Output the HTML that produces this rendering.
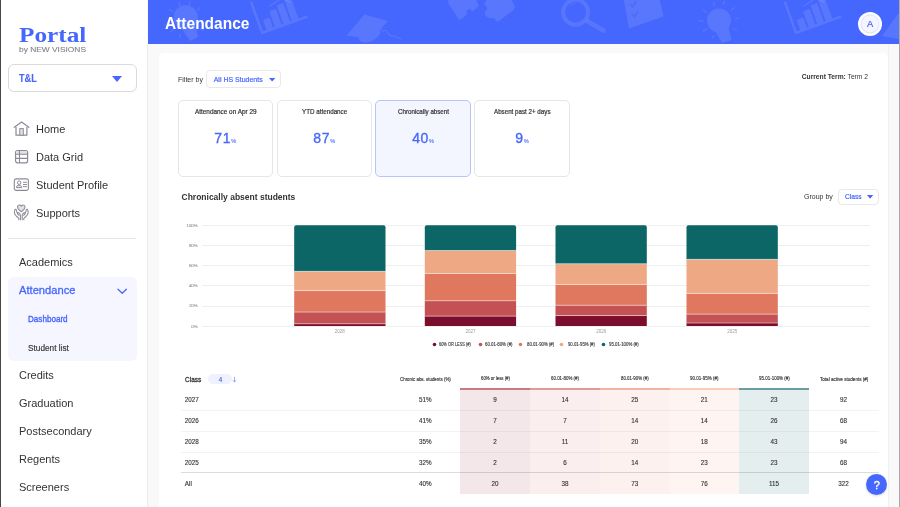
<!DOCTYPE html>
<html><head><meta charset="utf-8">
<style>
*{box-sizing:border-box;margin:0;padding:0}
html,body{width:900px;height:507px;overflow:hidden;background:#f8f8f8;font-family:"Liberation Sans",sans-serif;color:#333;position:relative}
</style></head><body>
<div style="position:absolute;left:0px;top:0px;width:900px;height:507px;background:#f9f9f9"></div>
<div style="position:absolute;left:1px;top:0px;width:146px;height:507px;background:#fff"></div>
<div style="position:absolute;left:147px;top:44px;width:1px;height:463px;background:#ececec"></div>
<div style="position:absolute;left:0px;top:0px;width:1px;height:507px;background:#474747"></div>
<div style="position:absolute;left:899px;top:0px;width:1px;height:507px;background:#a9a9a9"></div>
<div style="position:absolute;left:888px;top:44px;width:1.2px;height:463px;background:#f1f1f1"></div>
<div style="position:absolute;left:148px;top:0px;width:751px;height:44px;background:#4667fd;overflow:hidden"></div>
<svg style="position:absolute;left:148px;top:0" width="751" height="44" viewBox="148 0 751 44">
<g fill="#fff" opacity="0.1" stroke="none">
 <!-- bulb 1 -->
 <circle cx="185.6" cy="17.3" r="12"/>
 <path d="M180 26L195 23L198 37L190 41Z"/>
 <!-- bar chart 1 -->
 <g transform="translate(262.2 32.9) rotate(-19.8)">
  <path d="M-1.2 -33V1.2H48V-1.2H1.2V-33Z"/>
  <rect x="5" y="-12" width="7" height="12" rx="1.5"/>
  <rect x="14" y="-18" width="7" height="18" rx="1.5"/>
  <rect x="23" y="-21" width="7" height="21" rx="1.5"/>
  <rect x="32" y="-27" width="7" height="27" rx="1.5"/>
 </g>
 <!-- grad cap 1 -->
 <path d="M346.7 35.6L364.4 14.4L387.8 21.1L372.2 38.9Z"/>
 <ellipse cx="369.5" cy="34.5" rx="11.5" ry="7" transform="rotate(-25 369.5 34.5)"/>
 <!-- puzzle pieces -->
 <path d="M448.9 -1L449.3 3.6L459.6 19.1L466.2 14.2C465.3 11.5 466 9 468.5 8.4C470.3 8 471.6 9.2 472.4 10.5L477.8 5.8L475.1 -1Z" stroke="#fff" stroke-width="1.6" stroke-linejoin="round"/>
 <path d="M485.3 3.6L488 -1L510.2 -1L514.2 6.7L512.9 9.3L497.8 20.9L493.3 16.4C492.5 17.4 491 17.8 489.8 17.3C487 16.5 485.6 14.5 485.8 12.5C486 10.8 487 9.6 488.4 8.9Z" stroke="#fff" stroke-width="1.6" stroke-linejoin="round"/>
 <!-- clipboard -->
 <path d="M623.5 -2L659 -3L663.5 16.5L629 28.5Z"/>
 <!-- bulb 2 -->
 <circle cx="719" cy="20.5" r="12"/>
 <path d="M714 29L728 26L731.5 40L722 43Z"/>
 <!-- bar chart 2 -->
 <g transform="translate(796 32.9) rotate(-19.8)">
  <path d="M-1.2 -33V1.2H48V-1.2H1.2V-33Z"/>
  <rect x="5" y="-12" width="7" height="12" rx="1.5"/>
  <rect x="14" y="-18" width="7" height="18" rx="1.5"/>
  <rect x="23" y="-21" width="7" height="21" rx="1.5"/>
  <rect x="32" y="-27" width="7" height="27" rx="1.5"/>
 </g>
 <!-- grad cap 2 partial -->
 <path d="M882 36L898 14L904 16L904 40Z"/>
</g>
<g fill="none" stroke="#fff" stroke-opacity="0.1" stroke-linecap="round">
 <circle cx="575.6" cy="12.2" r="12.5" stroke-width="4"/>
 <path d="M588 21.5L603.5 30.5" stroke-width="4.5"/>
 <path d="M382 31Q386 29 388 33T394 36L401 39" stroke-width="1.2"/>
 <path d="M178.9 2.6L180.2 5.6M190 1.7L189.3 5.2M199.7 7.8L197.5 10.4M169.3 9.5L172.4 11.3M170.2 32L172.8 30M179.7 37.3L180.6 34.7M203.2 30.4L200.6 28.6" stroke-width="1.3"/>
 <path d="M713.3 2.2L714.4 5.6M724.4 1.1L723.3 4.4M734.4 7.8L731.1 10M703.3 10L706.7 12.2M698.9 21.1H703.3M735.6 18.9L738.9 17.8M703.3 31.1L706.7 28.9M712 37.8L714.4 35.6M733.3 28.9L736.7 30" stroke-width="1.3"/>
 <path d="M270 6L282 -2L290 2" stroke-width="1.5"/>
 <path d="M804 6L816 -2L824 2" stroke-width="1.5"/>
</g>
<g fill="none" stroke="#3f5ff0" stroke-opacity="0.5" stroke-width="1.4" stroke-linecap="round" stroke-linejoin="round">
 <path d="M630 4L632.5 7L636 1.5M632 14L634.5 17L638 11.5"/>
</g>
<g fill="none" stroke="#fff" stroke-opacity="0.08" stroke-width="1.2" stroke-linecap="round">
 <path d="M570 6Q572 3.5 575 3.2"/>
</g>
</svg>
<div style="position:absolute;top:14.81px;font-size:17px;line-height:17px;color:#fff;font-weight:700;white-space:nowrap;left:165.00px;transform:scaleX(0.9117);transform-origin:0 0">Attendance</div>
<div style="position:absolute;left:858px;top:11.8px;width:24px;height:24px;border-radius:50%;background:#f4f5ff;border:2px solid #fff;box-sizing:border-box;box-shadow:inset 0 0 0 0.8px #f4f5ff,inset 0 0 0 1.5px #dde2fb"></div>
<div style="position:absolute;top:20.03px;font-size:9.3px;line-height:9.3px;color:#4862ea;font-weight:400;white-space:nowrap;-webkit-text-stroke:0.2px #4862ea;left:860.10px;width:20px;text-align:center;">A</div>
<div style="position:absolute;top:25.25px;font-size:20.5px;line-height:20.5px;color:#4667fd;font-weight:700;white-space:nowrap;font-family:'Liberation Serif',serif;left:18.90px;transform:scaleX(1.2332);transform-origin:0 0">Portal</div>
<div style="position:absolute;top:45.51px;font-size:7.2px;line-height:7.2px;color:#80808a;font-weight:400;white-space:nowrap;-webkit-text-stroke:0.1px #80808a;left:19.00px;transform:scaleX(1.1649);transform-origin:0 0">by NEW VISIONS</div>
<div style="position:absolute;left:8px;top:64px;width:129px;height:28px;border:1px solid #dadada;border-radius:6px;box-sizing:border-box"></div>
<div style="position:absolute;top:73.41px;font-size:10.5px;line-height:10.5px;color:#4667fd;font-weight:700;white-space:nowrap;-webkit-text-stroke:0.15px #4667fd;left:19.00px;transform:scaleX(0.8667);transform-origin:0 0">T&amp;L</div>
<svg style="position:absolute;left:112px;top:75.5px" width="10" height="6.5"><path d="M0 0H10L5 6Z" fill="#4667fd"/></svg>
<svg style="position:absolute;left:12px;top:119px" width="20" height="19" viewBox="0 0 20 19">
<path d="M4.0 8.0V16.2H14.9V8.0" fill="none" stroke="#8b8b97" stroke-width="1.2" stroke-linejoin="round"/>
<path d="M2.3 8.3L9.55 3.1L16.9 8.3" fill="none" stroke="#8b8b97" stroke-width="1.2" stroke-linecap="round" stroke-linejoin="round"/>
<rect x="7.8" y="9.6" width="3.5" height="6.6" fill="#e2e2e8" stroke="#8b8b97" stroke-width="1"/>
</svg>
<svg style="position:absolute;left:14px;top:149px" width="16" height="16" viewBox="0 0 16 16">
<rect x="1.56" y="1.6" width="12.05" height="12.2" rx="2" fill="#fff" stroke="#8b8b97" stroke-width="1.2"/>
<path d="M2.2 2.2h10.8v3.1H2.2z" fill="#e2e2e8"/>
<path d="M1.56 5.3H13.6M1.56 9.4H13.6M5.5 1.6V13.8" stroke="#8b8b97" stroke-width="1.1"/>
</svg>
<svg style="position:absolute;left:13px;top:177px" width="17" height="15" viewBox="0 0 17 15">
<rect x="1.3" y="1.9" width="14.1" height="11.5" rx="1.8" fill="none" stroke="#8b8b97" stroke-width="1.1"/>
<circle cx="6.1" cy="5.7" r="1.75" fill="none" stroke="#8b8b97" stroke-width="1"/>
<path d="M3.4 10.6C3.5 8.7 4.6 8.1 6.1 8.1S8.7 8.7 8.8 10.6Z" fill="#e2e2e8" stroke="#8b8b97" stroke-width="1" stroke-linejoin="round"/>
<path d="M10 5.3H14M10 7.5H14M10 9.6H14" stroke="#8b8b97" stroke-width="0.95"/>
</svg>
<svg style="position:absolute;left:11px;top:202px" width="21" height="21" viewBox="0 0 21 21">
<path d="M10.3 9.7C7.8 7.9 6.6 6.6 6.6 5.0C6.6 3.8 7.5 3.0 8.5 3.0C9.3 3.0 9.9 3.5 10.3 4.1C10.7 3.5 11.3 3.0 12.1 3.0C13.1 3.0 14.0 3.8 14.0 5.0C14.0 6.6 12.8 7.9 10.3 9.7Z" fill="#e2e2e8" stroke="#8b8b97" stroke-width="1.05" stroke-linejoin="round"/>
<g fill="none" stroke="#8b8b97" stroke-width="1.05" stroke-linecap="round" stroke-linejoin="round">
<path d="M4.2 7.2C3 9.5 3.2 12 5.2 14L7.8 16.4V17.8M4.2 7.2C4.9 7.0 5.3 7.6 5.5 8.5L6.0 10.6C7.6 10.4 9.3 11.5 9.4 13.4V17.8M6.3 11.0C6.6 12.2 7.2 12.8 8.0 13.3"/>
<path d="M16.4 7.2C17.6 9.5 17.4 12 15.4 14L12.8 16.4V17.8M16.4 7.2C15.7 7.0 15.3 7.6 15.1 8.5L14.6 10.6C13 10.4 11.3 11.5 11.2 13.4V17.8M14.3 11.0C14 12.2 13.4 12.8 12.6 13.3"/>
</g>
</svg>
<div style="position:absolute;top:124.19px;font-size:11px;line-height:11px;color:#333;font-weight:400;white-space:nowrap;left:36.00px;">Home</div>
<div style="position:absolute;top:152.19px;font-size:11px;line-height:11px;color:#333;font-weight:400;white-space:nowrap;left:36.00px;">Data Grid</div>
<div style="position:absolute;top:180.19px;font-size:11px;line-height:11px;color:#333;font-weight:400;white-space:nowrap;left:36.00px;">Student Profile</div>
<div style="position:absolute;top:208.19px;font-size:11px;line-height:11px;color:#333;font-weight:400;white-space:nowrap;left:36.00px;">Supports</div>
<div style="position:absolute;left:8px;top:238px;width:128px;height:1px;background:#e6e6e6"></div>
<div style="position:absolute;left:8px;top:277px;width:128.6px;height:84px;background:#f5f6ff;border-radius:6px"></div>
<div style="position:absolute;top:257.09px;font-size:11px;line-height:11px;color:#333;font-weight:400;white-space:nowrap;left:19.00px;">Academics</div>
<div style="position:absolute;top:285.29px;font-size:11px;line-height:11px;color:#4667fd;font-weight:400;white-space:nowrap;-webkit-text-stroke:0.3px #4667fd;left:19.00px;transform:scaleX(1.0152);transform-origin:0 0">Attendance</div>
<svg style="position:absolute;left:117.3px;top:287.6px" width="11" height="7"><path d="M1 1.2L5.2 5.3L9.4 1.2" fill="none" stroke="#4667fd" stroke-width="1.25" stroke-linecap="round" stroke-linejoin="round"/></svg>
<div style="position:absolute;top:315.40px;font-size:8.5px;line-height:8.5px;color:#4667fd;font-weight:400;white-space:nowrap;-webkit-text-stroke:0.35px #4667fd;left:27.90px;transform:scaleX(0.9521);transform-origin:0 0">Dashboard</div>
<div style="position:absolute;top:343.80px;font-size:8.5px;line-height:8.5px;color:#333;font-weight:400;white-space:nowrap;-webkit-text-stroke:0.15px #333;left:27.80px;transform:scaleX(0.9700);transform-origin:0 0">Student list</div>
<div style="position:absolute;top:369.99px;font-size:11px;line-height:11px;color:#333;font-weight:400;white-space:nowrap;left:19.00px;">Credits</div>
<div style="position:absolute;top:397.99px;font-size:11px;line-height:11px;color:#333;font-weight:400;white-space:nowrap;left:19.00px;">Graduation</div>
<div style="position:absolute;top:425.99px;font-size:11px;line-height:11px;color:#333;font-weight:400;white-space:nowrap;left:19.00px;">Postsecondary</div>
<div style="position:absolute;top:453.99px;font-size:11px;line-height:11px;color:#333;font-weight:400;white-space:nowrap;left:19.00px;">Regents</div>
<div style="position:absolute;top:481.99px;font-size:11px;line-height:11px;color:#333;font-weight:400;white-space:nowrap;left:19.00px;">Screeners</div>
<div style="position:absolute;left:159px;top:53px;width:729px;height:470px;background:#fff;border-radius:5px"></div>
<div style="position:absolute;top:76.17px;font-size:7px;line-height:7px;color:#333;font-weight:400;white-space:nowrap;left:178.00px;">Filter by</div>
<div style="position:absolute;left:206px;top:70px;width:75px;height:17.5px;border:1px solid #e9e9e9;border-radius:4px;box-sizing:border-box;background:#fff"></div>
<div style="position:absolute;top:76.17px;font-size:7px;line-height:7px;color:#4667fd;font-weight:400;white-space:nowrap;-webkit-text-stroke:0.2px #4667fd;left:213.70px;">All HS Students</div>
<svg style="position:absolute;left:268.7px;top:77.7px" width="7" height="4.5"><path d="M0 0H6.3L3.15 3.6Z" fill="#4667fd"/></svg>
<div style="position:absolute;top:74.33px;font-size:6.7px;line-height:6.7px;color:#333;font-weight:400;white-space:nowrap;left:748.00px;width:120px;text-align:right;"><b>Current Term:</b> Term 2</div>
<div style="position:absolute;left:177.5px;top:100.3px;width:95.5px;height:76.5px;border:1px solid #e6e6e6;border-radius:5px;box-sizing:border-box;background:#fff"></div>
<div style="position:absolute;top:109.00px;font-size:6.5px;line-height:6.5px;color:#333;font-weight:400;white-space:nowrap;-webkit-text-stroke:0.2px #333;left:194.50px;transform:scaleX(0.9835);transform-origin:0 0">Attendance on Apr 29</div>
<div style="position:absolute;left:177.5px;width:95.5px;top:131.15px;text-align:center;white-space:nowrap;line-height:14px;color:#4667fd"><span style="font-size:14px;font-weight:400;-webkit-text-stroke:0.35px #4667fd;letter-spacing:0.6px">71</span><span style="font-size:5.6px;color:#6f8bfb;-webkit-text-stroke:0.2px #6f8bfb">%</span></div>
<div style="position:absolute;left:276.5px;top:100.3px;width:95.5px;height:76.5px;border:1px solid #e6e6e6;border-radius:5px;box-sizing:border-box;background:#fff"></div>
<div style="position:absolute;top:109.00px;font-size:6.5px;line-height:6.5px;color:#333;font-weight:400;white-space:nowrap;-webkit-text-stroke:0.2px #333;left:301.65px;transform:scaleX(0.9620);transform-origin:0 0">YTD attendance</div>
<div style="position:absolute;left:276.5px;width:95.5px;top:131.15px;text-align:center;white-space:nowrap;line-height:14px;color:#4667fd"><span style="font-size:14px;font-weight:400;-webkit-text-stroke:0.35px #4667fd;letter-spacing:0.6px">87</span><span style="font-size:5.6px;color:#6f8bfb;-webkit-text-stroke:0.2px #6f8bfb">%</span></div>
<div style="position:absolute;left:375.3px;top:100.3px;width:95.5px;height:76.5px;border:1px solid #b7c4f9;border-radius:5px;box-sizing:border-box;background:#f3f5ff"></div>
<div style="position:absolute;top:109.00px;font-size:6.5px;line-height:6.5px;color:#333;font-weight:400;white-space:nowrap;-webkit-text-stroke:0.2px #333;left:397.55px;transform:scaleX(0.9535);transform-origin:0 0">Chronically absent</div>
<div style="position:absolute;left:375.3px;width:95.5px;top:131.15px;text-align:center;white-space:nowrap;line-height:14px;color:#4667fd"><span style="font-size:14px;font-weight:400;-webkit-text-stroke:0.35px #4667fd;letter-spacing:0.6px">40</span><span style="font-size:5.6px;color:#6f8bfb;-webkit-text-stroke:0.2px #6f8bfb">%</span></div>
<div style="position:absolute;left:474.3px;top:100.3px;width:95.5px;height:76.5px;border:1px solid #e6e6e6;border-radius:5px;box-sizing:border-box;background:#fff"></div>
<div style="position:absolute;top:109.00px;font-size:6.5px;line-height:6.5px;color:#333;font-weight:400;white-space:nowrap;-webkit-text-stroke:0.2px #333;left:493.80px;transform:scaleX(0.9561);transform-origin:0 0">Absent past 2+ days</div>
<div style="position:absolute;left:474.3px;width:95.5px;top:131.15px;text-align:center;white-space:nowrap;line-height:14px;color:#4667fd"><span style="font-size:14px;font-weight:400;-webkit-text-stroke:0.35px #4667fd;letter-spacing:0.6px">9</span><span style="font-size:5.6px;color:#6f8bfb;-webkit-text-stroke:0.2px #6f8bfb">%</span></div>
<div style="position:absolute;top:192.50px;font-size:8.5px;line-height:8.5px;color:#333;font-weight:700;white-space:nowrap;left:181.50px;">Chronically absent students</div>
<div style="position:absolute;top:193.07px;font-size:7px;line-height:7px;color:#333;font-weight:400;white-space:nowrap;left:804.00px;">Group by</div>
<div style="position:absolute;left:837.5px;top:188.5px;width:41px;height:16.5px;border:1px solid #e8e8e8;border-radius:4px;box-sizing:border-box;background:#fff"></div>
<div style="position:absolute;top:194.41px;font-size:6.6px;line-height:6.6px;color:#4667fd;font-weight:400;white-space:nowrap;-webkit-text-stroke:0.2px #4667fd;left:845.00px;">Class</div>
<svg style="position:absolute;left:866.8px;top:194.8px" width="7" height="4.5"><path d="M0 0H6.2L3.1 3.7Z" fill="#4667fd"/></svg>
<div style="position:absolute;left:202px;top:325.5px;width:668px;height:1px;background:#efefef"></div>
<div style="position:absolute;top:324.56px;font-size:4.3px;line-height:4.3px;color:#8e8e8e;font-weight:400;white-space:nowrap;-webkit-text-stroke:0.08px #8e8e8e;left:177.50px;width:20px;text-align:right;">0%</div>
<div style="position:absolute;left:202px;top:305.5px;width:668px;height:1px;background:#efefef"></div>
<div style="position:absolute;top:304.42px;font-size:4.3px;line-height:4.3px;color:#8e8e8e;font-weight:400;white-space:nowrap;-webkit-text-stroke:0.08px #8e8e8e;left:177.50px;width:20px;text-align:right;">20%</div>
<div style="position:absolute;left:202px;top:285.0px;width:668px;height:1px;background:#efefef"></div>
<div style="position:absolute;top:284.28px;font-size:4.3px;line-height:4.3px;color:#8e8e8e;font-weight:400;white-space:nowrap;-webkit-text-stroke:0.08px #8e8e8e;left:177.50px;width:20px;text-align:right;">40%</div>
<div style="position:absolute;left:202px;top:265.0px;width:668px;height:1px;background:#efefef"></div>
<div style="position:absolute;top:264.14px;font-size:4.3px;line-height:4.3px;color:#8e8e8e;font-weight:400;white-space:nowrap;-webkit-text-stroke:0.08px #8e8e8e;left:177.50px;width:20px;text-align:right;">60%</div>
<div style="position:absolute;left:202px;top:245.0px;width:668px;height:1px;background:#efefef"></div>
<div style="position:absolute;top:244.00px;font-size:4.3px;line-height:4.3px;color:#8e8e8e;font-weight:400;white-space:nowrap;-webkit-text-stroke:0.08px #8e8e8e;left:177.50px;width:20px;text-align:right;">80%</div>
<div style="position:absolute;left:202px;top:225.0px;width:668px;height:1px;background:#efefef"></div>
<div style="position:absolute;top:223.86px;font-size:4.3px;line-height:4.3px;color:#8e8e8e;font-weight:400;white-space:nowrap;-webkit-text-stroke:0.08px #8e8e8e;left:177.50px;width:20px;text-align:right;">100%</div>
<svg style="position:absolute;left:0;top:0" width="900" height="507">
<rect x="294.20" y="323.86" width="91.3" height="2.14" fill="#7c0e2d"/>
<rect x="294.20" y="312.07" width="91.3" height="11.78" fill="#c45153"/>
<rect x="294.20" y="290.65" width="91.3" height="21.43" fill="#e0785f"/>
<rect x="294.20" y="271.36" width="91.3" height="19.28" fill="#eea883"/>
<path d="M294.20 271.36V227.30Q294.20 225.30 296.20 225.30H383.50Q385.50 225.30 385.50 227.30V271.36Z" fill="#0b6665"/>
<rect x="294.20" y="323.36" width="91.3" height="0.9" fill="#fff" fill-opacity="0.5"/>
<rect x="294.20" y="311.57" width="91.3" height="0.9" fill="#fff" fill-opacity="0.5"/>
<rect x="294.20" y="290.15" width="91.3" height="0.9" fill="#fff" fill-opacity="0.5"/>
<rect x="294.20" y="270.86" width="91.3" height="0.9" fill="#fff" fill-opacity="0.5"/>
<text x="339.85" y="333.00" font-size="4.5" fill="#9c9c9c" text-anchor="middle" font-family="Liberation Sans">2028</text>
<rect x="424.80" y="316.15" width="91.3" height="9.85" fill="#7c0e2d"/>
<rect x="424.80" y="300.82" width="91.3" height="15.32" fill="#c45153"/>
<rect x="424.80" y="273.46" width="91.3" height="27.36" fill="#e0785f"/>
<rect x="424.80" y="250.47" width="91.3" height="22.99" fill="#eea883"/>
<path d="M424.80 250.47V227.30Q424.80 225.30 426.80 225.30H514.10Q516.10 225.30 516.10 227.30V250.47Z" fill="#0b6665"/>
<rect x="424.80" y="315.65" width="91.3" height="0.9" fill="#fff" fill-opacity="0.5"/>
<rect x="424.80" y="300.32" width="91.3" height="0.9" fill="#fff" fill-opacity="0.5"/>
<rect x="424.80" y="272.96" width="91.3" height="0.9" fill="#fff" fill-opacity="0.5"/>
<rect x="424.80" y="249.97" width="91.3" height="0.9" fill="#fff" fill-opacity="0.5"/>
<text x="470.45" y="333.00" font-size="4.5" fill="#9c9c9c" text-anchor="middle" font-family="Liberation Sans">2027</text>
<rect x="555.50" y="315.63" width="91.3" height="10.37" fill="#7c0e2d"/>
<rect x="555.50" y="305.27" width="91.3" height="10.37" fill="#c45153"/>
<rect x="555.50" y="284.54" width="91.3" height="20.73" fill="#e0785f"/>
<rect x="555.50" y="263.80" width="91.3" height="20.73" fill="#eea883"/>
<path d="M555.50 263.80V227.30Q555.50 225.30 557.50 225.30H644.80Q646.80 225.30 646.80 227.30V263.80Z" fill="#0b6665"/>
<rect x="555.50" y="315.13" width="91.3" height="0.9" fill="#fff" fill-opacity="0.5"/>
<rect x="555.50" y="304.77" width="91.3" height="0.9" fill="#fff" fill-opacity="0.5"/>
<rect x="555.50" y="284.04" width="91.3" height="0.9" fill="#fff" fill-opacity="0.5"/>
<rect x="555.50" y="263.30" width="91.3" height="0.9" fill="#fff" fill-opacity="0.5"/>
<text x="601.15" y="333.00" font-size="4.5" fill="#9c9c9c" text-anchor="middle" font-family="Liberation Sans">2026</text>
<rect x="686.50" y="323.04" width="91.3" height="2.96" fill="#7c0e2d"/>
<rect x="686.50" y="314.15" width="91.3" height="8.89" fill="#c45153"/>
<rect x="686.50" y="293.42" width="91.3" height="20.73" fill="#e0785f"/>
<rect x="686.50" y="259.36" width="91.3" height="34.06" fill="#eea883"/>
<path d="M686.50 259.36V227.30Q686.50 225.30 688.50 225.30H775.80Q777.80 225.30 777.80 227.30V259.36Z" fill="#0b6665"/>
<rect x="686.50" y="322.54" width="91.3" height="0.9" fill="#fff" fill-opacity="0.5"/>
<rect x="686.50" y="313.65" width="91.3" height="0.9" fill="#fff" fill-opacity="0.5"/>
<rect x="686.50" y="292.92" width="91.3" height="0.9" fill="#fff" fill-opacity="0.5"/>
<rect x="686.50" y="258.86" width="91.3" height="0.9" fill="#fff" fill-opacity="0.5"/>
<text x="732.15" y="333.00" font-size="4.5" fill="#9c9c9c" text-anchor="middle" font-family="Liberation Sans">2025</text>
</svg>
<svg style="position:absolute;left:431.70px;top:341.9px" width="5" height="5"><circle cx="2.5" cy="2.5" r="1.8" fill="#7c0e2d"/></svg>
<div style="position:absolute;top:343.09px;font-size:4.5px;line-height:4.5px;color:#444;font-weight:400;white-space:nowrap;-webkit-text-stroke:0.15px #444;left:439.40px;transform:scaleX(0.8709);transform-origin:0 0">60% OR LESS (#)</div>
<svg style="position:absolute;left:477.50px;top:341.9px" width="5" height="5"><circle cx="2.5" cy="2.5" r="1.8" fill="#c45153"/></svg>
<div style="position:absolute;top:343.09px;font-size:4.5px;line-height:4.5px;color:#444;font-weight:400;white-space:nowrap;-webkit-text-stroke:0.15px #444;left:484.90px;transform:scaleX(0.9639);transform-origin:0 0">60.01-80% (#)</div>
<svg style="position:absolute;left:518.30px;top:341.9px" width="5" height="5"><circle cx="2.5" cy="2.5" r="1.8" fill="#e0785f"/></svg>
<div style="position:absolute;top:343.09px;font-size:4.5px;line-height:4.5px;color:#444;font-weight:400;white-space:nowrap;-webkit-text-stroke:0.15px #444;left:526.60px;transform:scaleX(0.9533);transform-origin:0 0">80.01-90% (#)</div>
<svg style="position:absolute;left:559.30px;top:341.9px" width="5" height="5"><circle cx="2.5" cy="2.5" r="1.8" fill="#eea883"/></svg>
<div style="position:absolute;top:343.09px;font-size:4.5px;line-height:4.5px;color:#444;font-weight:400;white-space:nowrap;-webkit-text-stroke:0.15px #444;left:567.60px;transform:scaleX(0.9428);transform-origin:0 0">90.01-95% (#)</div>
<svg style="position:absolute;left:600.70px;top:341.9px" width="5" height="5"><circle cx="2.5" cy="2.5" r="1.8" fill="#0b6665"/></svg>
<div style="position:absolute;top:343.09px;font-size:4.5px;line-height:4.5px;color:#444;font-weight:400;white-space:nowrap;-webkit-text-stroke:0.15px #444;left:608.70px;transform:scaleX(0.9571);transform-origin:0 0">95.01-100% (#)</div>
<div style="position:absolute;left:460px;top:388.3px;width:70px;height:105.5px;background:#f3e7ea"></div>
<div style="position:absolute;left:460px;top:387.9px;width:70px;height:1.9px;background:#c77a84"></div>
<div style="position:absolute;left:530px;top:388.3px;width:70px;height:105.5px;background:#fbeeee"></div>
<div style="position:absolute;left:530px;top:387.9px;width:70px;height:1.9px;background:#e29a96"></div>
<div style="position:absolute;left:600px;top:388.3px;width:69.5px;height:105.5px;background:#fdf1ef"></div>
<div style="position:absolute;left:600px;top:387.9px;width:69.5px;height:1.9px;background:#f0b4a3"></div>
<div style="position:absolute;left:669.5px;top:388.3px;width:69.70000000000005px;height:105.5px;background:#fef5f2"></div>
<div style="position:absolute;left:669.5px;top:387.9px;width:69.70000000000005px;height:1.9px;background:#f7cdb9"></div>
<div style="position:absolute;left:739.2px;top:388.3px;width:69.79999999999995px;height:105.5px;background:#e5eeef"></div>
<div style="position:absolute;left:739.2px;top:387.9px;width:69.79999999999995px;height:1.9px;background:#6b9ea0"></div>
<div style="position:absolute;left:180.6px;top:410px;width:698.4px;height:1px;background:#f3f3f3;mix-blend-mode:multiply"></div>
<div style="position:absolute;left:180.6px;top:430.7px;width:698.4px;height:1px;background:#f3f3f3;mix-blend-mode:multiply"></div>
<div style="position:absolute;left:180.6px;top:451.5px;width:698.4px;height:1px;background:#f3f3f3;mix-blend-mode:multiply"></div>
<div style="position:absolute;left:180.6px;top:471.8px;width:698.4px;height:1.2px;background:#dcdcdc;mix-blend-mode:multiply"></div>
<div style="position:absolute;top:376.37px;font-size:7px;line-height:7px;color:#333;font-weight:400;white-space:nowrap;-webkit-text-stroke:0.28px #333;left:184.80px;transform:scaleX(0.9306);transform-origin:0 0">Class</div>
<div style="position:absolute;left:208.3px;top:374.4px;width:24px;height:9.3px;background:#eff2fe;border-radius:5px"></div>
<div style="position:absolute;top:376.77px;font-size:6.3px;line-height:6.3px;color:#4667fd;font-weight:400;white-space:nowrap;-webkit-text-stroke:0.15px #4667fd;left:215.40px;width:10px;text-align:center;">4</div>
<svg style="position:absolute;left:232px;top:376px" width="5" height="7"><path d="M2.5 1.4V5.9M1.1 4.5L2.5 6L3.9 4.5" fill="none" stroke="#6a85fb" stroke-width="0.65" stroke-linecap="round" stroke-linejoin="round"/></svg>
<div style="position:absolute;top:377.82px;font-size:4.7px;line-height:4.7px;color:#333;font-weight:400;white-space:nowrap;-webkit-text-stroke:0.14px #333;left:400.00px;transform:scaleX(0.9418);transform-origin:0 0">Chronic abs. students (%)</div>
<div style="position:absolute;top:377.22px;font-size:4.7px;line-height:4.7px;color:#333;font-weight:400;white-space:nowrap;-webkit-text-stroke:0.14px #333;left:480.75px;transform:scaleX(0.9166);transform-origin:0 0">60% or less (#)</div>
<div style="position:absolute;top:377.22px;font-size:4.7px;line-height:4.7px;color:#333;font-weight:400;white-space:nowrap;-webkit-text-stroke:0.14px #333;left:551.00px;transform:scaleX(0.9422);transform-origin:0 0">60.01-80% (#)</div>
<div style="position:absolute;top:377.22px;font-size:4.7px;line-height:4.7px;color:#333;font-weight:400;white-space:nowrap;-webkit-text-stroke:0.14px #333;left:621.00px;transform:scaleX(0.9287);transform-origin:0 0">80.01-90% (#)</div>
<div style="position:absolute;top:377.22px;font-size:4.7px;line-height:4.7px;color:#333;font-weight:400;white-space:nowrap;-webkit-text-stroke:0.14px #333;left:690.00px;transform:scaleX(0.9556);transform-origin:0 0">90.01-95% (#)</div>
<div style="position:absolute;top:377.22px;font-size:4.7px;line-height:4.7px;color:#333;font-weight:400;white-space:nowrap;-webkit-text-stroke:0.14px #333;left:758.60px;transform:scaleX(0.9532);transform-origin:0 0">95.01-100% (#)</div>
<div style="position:absolute;top:377.72px;font-size:4.7px;line-height:4.7px;color:#333;font-weight:400;white-space:nowrap;-webkit-text-stroke:0.14px #333;left:819.60px;transform:scaleX(0.9775);transform-origin:0 0">Total active students (#)</div>
<div style="position:absolute;top:397.12px;font-size:6.3px;line-height:6.3px;color:#333;font-weight:400;white-space:nowrap;-webkit-text-stroke:0.12px #333;left:184.80px;">2027</div>
<div style="position:absolute;top:397.12px;font-size:6.3px;line-height:6.3px;color:#333;font-weight:400;white-space:nowrap;-webkit-text-stroke:0.12px #333;left:405.40px;width:40px;text-align:center;">51%</div>
<div style="position:absolute;top:397.12px;font-size:6.3px;line-height:6.3px;color:#333;font-weight:400;white-space:nowrap;-webkit-text-stroke:0.12px #333;left:475.00px;width:40px;text-align:center;">9</div>
<div style="position:absolute;top:397.12px;font-size:6.3px;line-height:6.3px;color:#333;font-weight:400;white-space:nowrap;-webkit-text-stroke:0.12px #333;left:545.00px;width:40px;text-align:center;">14</div>
<div style="position:absolute;top:397.12px;font-size:6.3px;line-height:6.3px;color:#333;font-weight:400;white-space:nowrap;-webkit-text-stroke:0.12px #333;left:614.75px;width:40px;text-align:center;">25</div>
<div style="position:absolute;top:397.12px;font-size:6.3px;line-height:6.3px;color:#333;font-weight:400;white-space:nowrap;-webkit-text-stroke:0.12px #333;left:684.35px;width:40px;text-align:center;">21</div>
<div style="position:absolute;top:397.12px;font-size:6.3px;line-height:6.3px;color:#333;font-weight:400;white-space:nowrap;-webkit-text-stroke:0.12px #333;left:754.10px;width:40px;text-align:center;">23</div>
<div style="position:absolute;top:397.12px;font-size:6.3px;line-height:6.3px;color:#333;font-weight:400;white-space:nowrap;-webkit-text-stroke:0.12px #333;left:823.60px;width:40px;text-align:center;">92</div>
<div style="position:absolute;top:417.92px;font-size:6.3px;line-height:6.3px;color:#333;font-weight:400;white-space:nowrap;-webkit-text-stroke:0.12px #333;left:184.80px;">2026</div>
<div style="position:absolute;top:417.92px;font-size:6.3px;line-height:6.3px;color:#333;font-weight:400;white-space:nowrap;-webkit-text-stroke:0.12px #333;left:405.40px;width:40px;text-align:center;">41%</div>
<div style="position:absolute;top:417.92px;font-size:6.3px;line-height:6.3px;color:#333;font-weight:400;white-space:nowrap;-webkit-text-stroke:0.12px #333;left:475.00px;width:40px;text-align:center;">7</div>
<div style="position:absolute;top:417.92px;font-size:6.3px;line-height:6.3px;color:#333;font-weight:400;white-space:nowrap;-webkit-text-stroke:0.12px #333;left:545.00px;width:40px;text-align:center;">7</div>
<div style="position:absolute;top:417.92px;font-size:6.3px;line-height:6.3px;color:#333;font-weight:400;white-space:nowrap;-webkit-text-stroke:0.12px #333;left:614.75px;width:40px;text-align:center;">14</div>
<div style="position:absolute;top:417.92px;font-size:6.3px;line-height:6.3px;color:#333;font-weight:400;white-space:nowrap;-webkit-text-stroke:0.12px #333;left:684.35px;width:40px;text-align:center;">14</div>
<div style="position:absolute;top:417.92px;font-size:6.3px;line-height:6.3px;color:#333;font-weight:400;white-space:nowrap;-webkit-text-stroke:0.12px #333;left:754.10px;width:40px;text-align:center;">26</div>
<div style="position:absolute;top:417.92px;font-size:6.3px;line-height:6.3px;color:#333;font-weight:400;white-space:nowrap;-webkit-text-stroke:0.12px #333;left:823.60px;width:40px;text-align:center;">68</div>
<div style="position:absolute;top:438.92px;font-size:6.3px;line-height:6.3px;color:#333;font-weight:400;white-space:nowrap;-webkit-text-stroke:0.12px #333;left:184.80px;">2028</div>
<div style="position:absolute;top:438.92px;font-size:6.3px;line-height:6.3px;color:#333;font-weight:400;white-space:nowrap;-webkit-text-stroke:0.12px #333;left:405.40px;width:40px;text-align:center;">35%</div>
<div style="position:absolute;top:438.92px;font-size:6.3px;line-height:6.3px;color:#333;font-weight:400;white-space:nowrap;-webkit-text-stroke:0.12px #333;left:475.00px;width:40px;text-align:center;">2</div>
<div style="position:absolute;top:438.92px;font-size:6.3px;line-height:6.3px;color:#333;font-weight:400;white-space:nowrap;-webkit-text-stroke:0.12px #333;left:545.00px;width:40px;text-align:center;">11</div>
<div style="position:absolute;top:438.92px;font-size:6.3px;line-height:6.3px;color:#333;font-weight:400;white-space:nowrap;-webkit-text-stroke:0.12px #333;left:614.75px;width:40px;text-align:center;">20</div>
<div style="position:absolute;top:438.92px;font-size:6.3px;line-height:6.3px;color:#333;font-weight:400;white-space:nowrap;-webkit-text-stroke:0.12px #333;left:684.35px;width:40px;text-align:center;">18</div>
<div style="position:absolute;top:438.92px;font-size:6.3px;line-height:6.3px;color:#333;font-weight:400;white-space:nowrap;-webkit-text-stroke:0.12px #333;left:754.10px;width:40px;text-align:center;">43</div>
<div style="position:absolute;top:438.92px;font-size:6.3px;line-height:6.3px;color:#333;font-weight:400;white-space:nowrap;-webkit-text-stroke:0.12px #333;left:823.60px;width:40px;text-align:center;">94</div>
<div style="position:absolute;top:459.92px;font-size:6.3px;line-height:6.3px;color:#333;font-weight:400;white-space:nowrap;-webkit-text-stroke:0.12px #333;left:184.80px;">2025</div>
<div style="position:absolute;top:459.92px;font-size:6.3px;line-height:6.3px;color:#333;font-weight:400;white-space:nowrap;-webkit-text-stroke:0.12px #333;left:405.40px;width:40px;text-align:center;">32%</div>
<div style="position:absolute;top:459.92px;font-size:6.3px;line-height:6.3px;color:#333;font-weight:400;white-space:nowrap;-webkit-text-stroke:0.12px #333;left:475.00px;width:40px;text-align:center;">2</div>
<div style="position:absolute;top:459.92px;font-size:6.3px;line-height:6.3px;color:#333;font-weight:400;white-space:nowrap;-webkit-text-stroke:0.12px #333;left:545.00px;width:40px;text-align:center;">6</div>
<div style="position:absolute;top:459.92px;font-size:6.3px;line-height:6.3px;color:#333;font-weight:400;white-space:nowrap;-webkit-text-stroke:0.12px #333;left:614.75px;width:40px;text-align:center;">14</div>
<div style="position:absolute;top:459.92px;font-size:6.3px;line-height:6.3px;color:#333;font-weight:400;white-space:nowrap;-webkit-text-stroke:0.12px #333;left:684.35px;width:40px;text-align:center;">23</div>
<div style="position:absolute;top:459.92px;font-size:6.3px;line-height:6.3px;color:#333;font-weight:400;white-space:nowrap;-webkit-text-stroke:0.12px #333;left:754.10px;width:40px;text-align:center;">23</div>
<div style="position:absolute;top:459.92px;font-size:6.3px;line-height:6.3px;color:#333;font-weight:400;white-space:nowrap;-webkit-text-stroke:0.12px #333;left:823.60px;width:40px;text-align:center;">68</div>
<div style="position:absolute;top:480.92px;font-size:6.3px;line-height:6.3px;color:#333;font-weight:400;white-space:nowrap;-webkit-text-stroke:0.12px #333;left:184.80px;">All</div>
<div style="position:absolute;top:480.92px;font-size:6.3px;line-height:6.3px;color:#333;font-weight:400;white-space:nowrap;-webkit-text-stroke:0.12px #333;left:405.40px;width:40px;text-align:center;">40%</div>
<div style="position:absolute;top:480.92px;font-size:6.3px;line-height:6.3px;color:#333;font-weight:400;white-space:nowrap;-webkit-text-stroke:0.12px #333;left:475.00px;width:40px;text-align:center;">20</div>
<div style="position:absolute;top:480.92px;font-size:6.3px;line-height:6.3px;color:#333;font-weight:400;white-space:nowrap;-webkit-text-stroke:0.12px #333;left:545.00px;width:40px;text-align:center;">38</div>
<div style="position:absolute;top:480.92px;font-size:6.3px;line-height:6.3px;color:#333;font-weight:400;white-space:nowrap;-webkit-text-stroke:0.12px #333;left:614.75px;width:40px;text-align:center;">73</div>
<div style="position:absolute;top:480.92px;font-size:6.3px;line-height:6.3px;color:#333;font-weight:400;white-space:nowrap;-webkit-text-stroke:0.12px #333;left:684.35px;width:40px;text-align:center;">76</div>
<div style="position:absolute;top:480.92px;font-size:6.3px;line-height:6.3px;color:#333;font-weight:400;white-space:nowrap;-webkit-text-stroke:0.12px #333;left:754.10px;width:40px;text-align:center;">115</div>
<div style="position:absolute;top:480.92px;font-size:6.3px;line-height:6.3px;color:#333;font-weight:400;white-space:nowrap;-webkit-text-stroke:0.12px #333;left:823.60px;width:40px;text-align:center;">322</div>
<div style="position:absolute;left:866.3px;top:474.4px;width:21px;height:21px;border-radius:50%;background:#4667fd;box-shadow:0 1px 3px rgba(0,0,0,0.15)"></div>
<div style="position:absolute;top:480.19px;font-size:11px;line-height:11px;color:#fff;font-weight:400;white-space:nowrap;-webkit-text-stroke:0.35px #fff;left:866.90px;width:20px;text-align:center;">?</div>
</body></html>
